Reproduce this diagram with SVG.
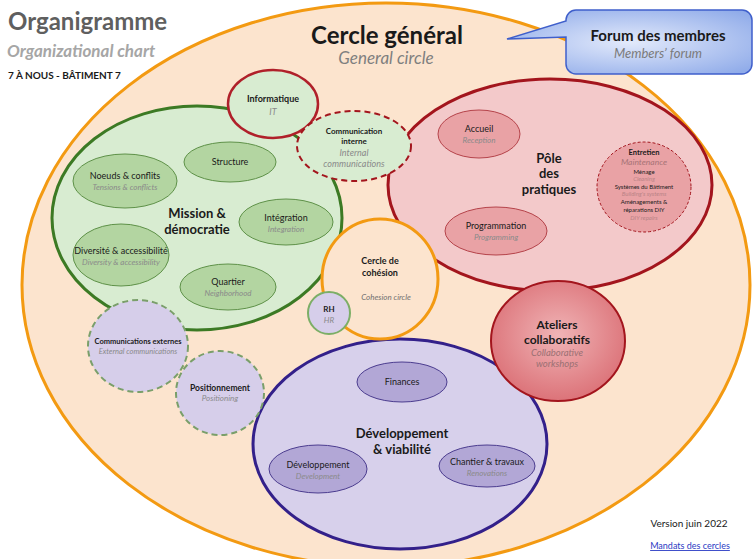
<svg xmlns="http://www.w3.org/2000/svg" width="756" height="559" viewBox="0 0 756 559">
<defs>
<radialGradient id="forumGrad" cx="50%" cy="50%" r="70%">
<stop offset="0" stop-color="#E3EAFB"/>
<stop offset="1" stop-color="#8AA7E8"/>
</radialGradient>
<radialGradient id="ateliersGrad" cx="50%" cy="45%" r="55%">
<stop offset="0" stop-color="#F0B4B6"/>
<stop offset="1" stop-color="#DC7379"/>
</radialGradient>
<style>
text{font-family:Lato,"Liberation Sans",sans-serif;text-anchor:middle;fill:#1a1a1a}
.b{font-weight:bold}
.it{font-style:italic;fill:#8a8a8a}
.s9{font-size:9px}
.s8{font-size:8px}
.green-sub{fill:#B3D5A1;stroke:#5E9148;stroke-width:1}
.purple-sub{fill:#B2A7D6;stroke:#4B3C8F;stroke-width:1}
.pink-sub{fill:#E9A2A5;stroke:#B5434A;stroke-width:1}
.en{font-size:6px}
.eni{font-size:6px;font-style:italic;fill:#b98286}
</style>
</defs>
<rect width="756" height="559" fill="#ffffff"/>

<g id="titles">
<text x="8" y="30" style="text-anchor:start;font-size:24px;font-weight:bold;fill:#5f5f5f">Organigramme</text>
<text x="7" y="57" style="text-anchor:start;font-size:17px;font-weight:bold;font-style:italic;fill:#a6a6a6">Organizational chart</text>
<text x="8" y="79" style="text-anchor:start;font-size:10px;font-weight:bold">7 À NOUS - BÂTIMENT 7</text>
</g>

<g id="cercle-general">
<ellipse cx="386" cy="285" rx="364" ry="282" fill="#FCE4CE" stroke="#F39A12" stroke-width="3"/>
<text x="387" y="44" class="b" style="font-size:24px">Cercle général</text>
<text x="386" y="64" class="it" style="font-size:17px;fill:#7f7f7f">General circle</text>
</g>

<g id="forum">
<path d="M576,10 H742 A10,10 0 0 1 752,20 V64 A10,10 0 0 1 742,74 H576 A10,10 0 0 1 566,64 V37 L507,39 L566,21 V20 A10,10 0 0 1 576,10 Z" fill="url(#forumGrad)" stroke="#3F5FCB" stroke-width="1.5"/>
<text x="658" y="41" class="b" style="font-size:15px">Forum des membres</text>
<text x="658" y="58" class="it" style="font-size:13px;fill:#7a7a7a">Members’ forum</text>
</g>

<g id="mission">
<ellipse cx="197" cy="218" rx="145" ry="112" fill="#D8ECD1" stroke="#3C7A24" stroke-width="3"/>
<text x="197" y="218" class="b" style="font-size:13px">Mission &amp;</text>
<text x="197" y="234" class="b" style="font-size:13px">démocratie</text>
</g>
<g id="structure">
<ellipse cx="230" cy="162" rx="46" ry="20" class="green-sub"/>
<text x="230" y="165" class="s9">Structure</text>
</g>
<g id="noeuds">
<ellipse cx="125" cy="181" rx="52" ry="27" class="green-sub"/>
<text x="125" y="179" class="s9">Noeuds &amp; conflits</text>
<text x="125" y="190" class="s8 it">Tensions &amp; conflicts</text>
</g>
<g id="integration">
<ellipse cx="286" cy="222" rx="47" ry="23" class="green-sub"/>
<text x="286" y="221" class="s9">Intégration</text>
<text x="286" y="232" class="s8 it">Integration</text>
</g>
<g id="diversite">
<ellipse cx="121" cy="255" rx="48" ry="31" class="green-sub"/>
<text x="121" y="254" class="s9">Diversité &amp; accessibilité</text>
<text x="121" y="265" class="s8 it">Diversity &amp; accessibility</text>
</g>
<g id="quartier">
<ellipse cx="228" cy="287" rx="48" ry="23" class="green-sub"/>
<text x="228" y="285" class="s9">Quartier</text>
<text x="228" y="296" class="s8 it">Neighborhood</text>
</g>

<g id="pole">
<ellipse cx="550" cy="185" rx="162" ry="106" fill="#F3C9CA" stroke="#A3151D" stroke-width="3"/>
<text x="549" y="163" class="b" style="font-size:13px">Pôle</text>
<text x="549" y="178" class="b" style="font-size:13px">des</text>
<text x="549" y="194" class="b" style="font-size:13px">pratiques</text>
</g>
<g id="accueil">
<ellipse cx="479" cy="134" rx="41" ry="24" class="pink-sub"/>
<text x="479" y="132" class="s9">Accueil</text>
<text x="479" y="143" class="s8 it">Reception</text>
</g>
<g id="programmation">
<ellipse cx="496" cy="231" rx="51" ry="24" class="pink-sub"/>
<text x="496" y="229" class="s9">Programmation</text>
<text x="496" y="240" class="s8 it">Programming</text>
</g>
<g id="entretien">
<ellipse cx="644" cy="187" rx="47" ry="45" fill="#E9A2A5" stroke="#A3151D" stroke-width="1" stroke-dasharray="3 2"/>
<text x="644" y="155" class="b" style="font-size:7.5px">Entretien</text>
<text x="644" y="165" class="it" style="font-size:8.5px;fill:#a77275">Maintenance</text>
<text x="644" y="174" class="en">Ménage</text>
<text x="644" y="181" class="eni">Cleaning</text>
<text x="644" y="189" class="en">Systèmes du Bâtiment</text>
<text x="644" y="196" class="eni">Building's systems</text>
<text x="644" y="204" class="en">Aménagements &amp;</text>
<text x="644" y="212" class="en">réparations DIY</text>
<text x="644" y="220" class="eni">DIY repairs</text>
</g>

<g id="informatique">
<ellipse cx="273" cy="104" rx="45" ry="34" fill="#D8ECD1" stroke="#B0202A" stroke-width="2.5"/>
<text x="273" y="102" class="b s9">Informatique</text>
<text x="273" y="115" class="it s9">IT</text>
</g>
<g id="communication-interne">
<ellipse cx="354" cy="146" rx="57" ry="35" fill="#D8ECD1" stroke="#A3151D" stroke-width="2" stroke-dasharray="6 4"/>
<text x="354" y="134" class="b s8">Communication</text>
<text x="354" y="144" class="b s8">interne</text>
<text x="354" y="156" class="it s9">Internal</text>
<text x="354" y="167" class="it s9">communications</text>
</g>

<g id="developpement-viabilite">
<ellipse cx="400" cy="444" rx="147" ry="105" fill="#D7D0EB" stroke="#33208A" stroke-width="3"/>
<text x="402" y="438" class="b" style="font-size:13px">Développement</text>
<text x="402" y="454" class="b" style="font-size:13px">&amp; viabilité</text>
</g>
<g id="finances">
<ellipse cx="402" cy="382" rx="45" ry="20" class="purple-sub"/>
<text x="402" y="385" class="s9">Finances</text>
</g>
<g id="developpement">
<ellipse cx="318" cy="469" rx="49" ry="24" class="purple-sub"/>
<text x="318" y="468" class="s9">Développement</text>
<text x="318" y="479" class="s8 it">Development</text>
</g>
<g id="chantier">
<ellipse cx="487" cy="466" rx="48" ry="21" class="purple-sub"/>
<text x="487" y="465" class="s9">Chantier &amp; travaux</text>
<text x="487" y="476" class="s8 it">Renovations</text>
</g>

<g id="cohesion">
<ellipse cx="380" cy="279" rx="58" ry="60" fill="#FCE4CE" stroke="#F39A12" stroke-width="3"/>
<text x="380" y="264" class="b s9">Cercle de</text>
<text x="380" y="276" class="b s9">cohésion</text>
<text x="386" y="300" class="it s8" style="fill:#707070">Cohesion circle</text>
</g>
<g id="rh">
<circle cx="329" cy="313" r="21" fill="#D6CEEA" stroke="#7CAE66" stroke-width="2"/>
<text x="329" y="312" class="b s8">RH</text>
<text x="329" y="323" class="it s8">HR</text>
</g>

<g id="ateliers">
<ellipse cx="558" cy="341" rx="67" ry="60" fill="url(#ateliersGrad)" stroke="#A3151D" stroke-width="2"/>
<text x="557" y="329" class="b" style="font-size:12px">Ateliers</text>
<text x="557" y="344" class="b" style="font-size:12px">collaboratifs</text>
<text x="557" y="356" class="it" style="font-size:9.5px;fill:#9a7073">Collaborative</text>
<text x="557" y="367" class="it" style="font-size:9.5px;fill:#9a7073">workshops</text>
</g>

<g id="communications-externes">
<ellipse cx="138" cy="346" rx="50" ry="46" fill="#D6CEEA" stroke="#7A9F6A" stroke-width="2" stroke-dasharray="6 4"/>
<text x="138" y="344" class="b" style="font-size:7.5px">Communications externes</text>
<text x="138" y="354" class="it" style="font-size:7.5px">External communications</text>
</g>
<g id="positionnement">
<ellipse cx="220" cy="393" rx="44" ry="42" fill="#D6CEEA" stroke="#7A9F6A" stroke-width="2" stroke-dasharray="6 4"/>
<text x="220" y="391" class="b" style="font-size:8.5px">Positionnement</text>
<text x="220" y="401" class="it s8">Positioning</text>
</g>

<g id="connectors"></g>

<g id="footer">
<text x="689" y="527" style="font-size:10px">Version juin 2022</text>
<text x="690" y="549" style="font-size:9px;fill:#2B3BC4;text-decoration:underline">Mandats des cercles</text>
</g>
</svg>
